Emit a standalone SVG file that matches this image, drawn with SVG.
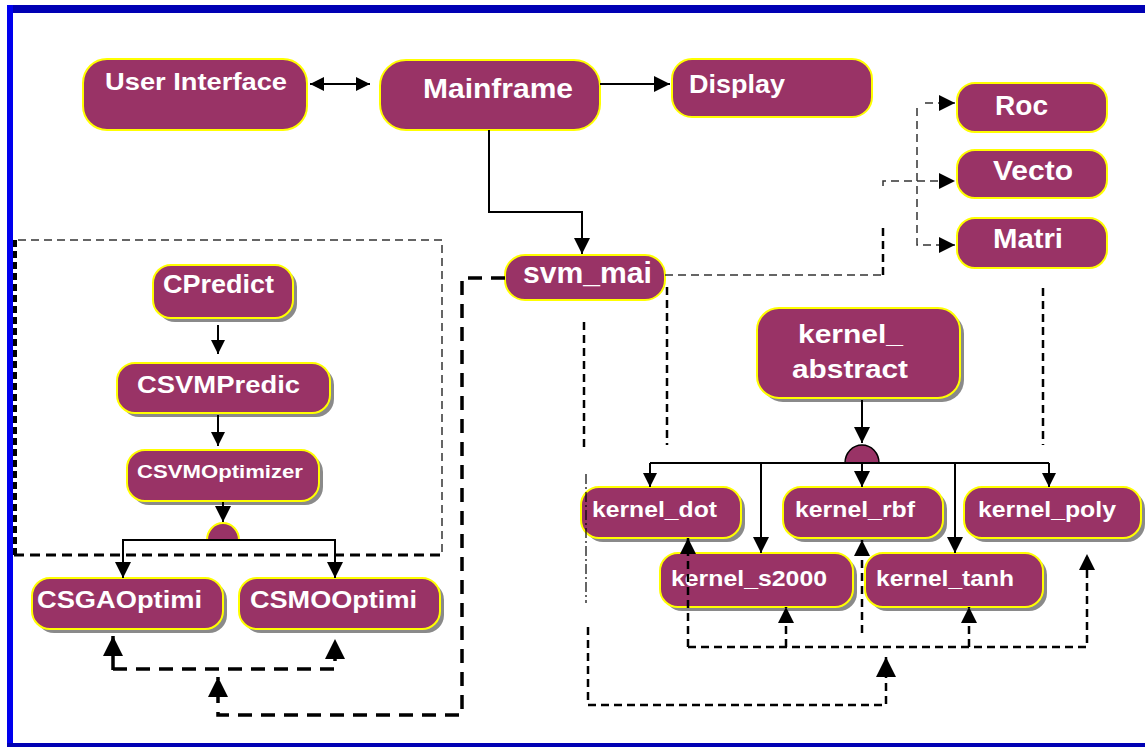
<svg xmlns="http://www.w3.org/2000/svg" width="1145" height="747" viewBox="0 0 1145 747">
<style>
.n{fill:#993366;stroke:#ffff00;stroke-width:2}
.sh{fill:#8a8a8a}
.t{font-family:"Liberation Sans",Arial,sans-serif;font-weight:bold;fill:#fff}
.s{fill:none;stroke:#000;stroke-width:2}
.d1{fill:none;stroke:#333;stroke-width:1.5;stroke-dasharray:8 5}
.d2{fill:none;stroke:#000;stroke-width:2.5;stroke-dasharray:8 5}
.d3{fill:none;stroke:#000;stroke-width:3.5;stroke-dasharray:14 9}
</style>
<defs>
<marker id="ah" viewBox="0 0 10 10" refX="10" refY="5" markerWidth="18" markerHeight="16" markerUnits="userSpaceOnUse" orient="auto-start-reverse"><path d="M0,0 L10,5 L0,10 z" fill="#000"/></marker>
<marker id="as" viewBox="0 0 10 10" refX="10" refY="5" markerWidth="16" markerHeight="14" markerUnits="userSpaceOnUse" orient="auto-start-reverse"><path d="M0,0 L10,5 L0,10 z" fill="#000"/></marker>
<marker id="al" viewBox="0 0 10 10" refX="10" refY="5" markerWidth="21" markerHeight="20" markerUnits="userSpaceOnUse" orient="auto-start-reverse"><path d="M0,0 L10,5 L0,10 z" fill="#000"/></marker>
</defs>
<rect width="1145" height="747" fill="#fff"/>
<g id="frame">
<rect x="7" y="5" width="1138" height="8" fill="#0000b4"/>
<rect x="7" y="5" width="6" height="742" fill="#0000ee"/>
<rect x="7" y="743" width="1138" height="4" fill="#0000b4"/>
</g>
<g id="group-box">
<path class="d1" d="M18,240 H442 V555"/>
<path d="M14,555 H442" fill="none" stroke="#000" stroke-width="3" stroke-dasharray="10 6"/>
<path d="M15,240 V555" fill="none" stroke="#000" stroke-width="4" stroke-dasharray="7 4"/>
</g>
<g id="user-interface"><rect class="n" x="83" y="59" width="224" height="71" rx="24"/><text class="t" x="105" y="90" font-size="24" textLength="182" lengthAdjust="spacingAndGlyphs">User Interface</text></g>
<g id="mainframe"><rect class="n" x="380" y="60" width="220" height="70" rx="26"/><text class="t" x="423" y="98" font-size="28" textLength="150" lengthAdjust="spacingAndGlyphs">Mainframe</text></g>
<g id="display"><rect class="n" x="672" y="59" width="200" height="58" rx="20"/><text class="t" x="689" y="93" font-size="26" textLength="96" lengthAdjust="spacingAndGlyphs">Display</text></g>
<g id="svm-mai"><rect class="n" x="505" y="255" width="160" height="45" rx="20"/><text class="t" x="523" y="283" font-size="30" textLength="129" lengthAdjust="spacingAndGlyphs">svm_mai</text></g>
<g id="roc"><rect class="n" x="957" y="83" width="150" height="49" rx="18"/><text class="t" x="995" y="115" font-size="27" textLength="53" lengthAdjust="spacingAndGlyphs">Roc</text></g>
<g id="vecto"><rect class="n" x="957" y="150" width="150" height="48" rx="18"/><text class="t" x="993" y="180" font-size="27" textLength="80" lengthAdjust="spacingAndGlyphs">Vecto</text></g>
<g id="matri"><rect class="n" x="957" y="218" width="150" height="50" rx="18"/><text class="t" x="993" y="248" font-size="27" textLength="70" lengthAdjust="spacingAndGlyphs">Matri</text></g>
<g id="cpredict"><rect class="sh" x="157" y="269" width="140" height="53" rx="18"/><rect class="n" x="153" y="265" width="140" height="53" rx="18"/><text class="t" x="163" y="293" font-size="25" textLength="111" lengthAdjust="spacingAndGlyphs">CPredict</text></g>
<g id="csvmpredic"><rect class="sh" x="121" y="367" width="213" height="50" rx="18"/><rect class="n" x="117" y="363" width="213" height="50" rx="18"/><text class="t" x="137" y="393" font-size="23" textLength="163" lengthAdjust="spacingAndGlyphs">CSVMPredic</text></g>
<g id="csvmoptimizer"><rect class="sh" x="131" y="454" width="192" height="51" rx="18"/><rect class="n" x="127" y="450" width="192" height="51" rx="18"/><text class="t" x="137" y="478" font-size="18" textLength="166" lengthAdjust="spacingAndGlyphs">CSVMOptimizer</text></g>
<g id="csgaoptimi"><rect class="sh" x="36" y="582" width="191" height="51" rx="18"/><rect class="n" x="32" y="578" width="191" height="51" rx="18"/><text class="t" x="37" y="608" font-size="23" textLength="165" lengthAdjust="spacingAndGlyphs">CSGAOptimi</text></g>
<g id="csmooptimi"><rect class="sh" x="243" y="582" width="201" height="51" rx="18"/><rect class="n" x="239" y="578" width="201" height="51" rx="18"/><text class="t" x="250" y="608" font-size="23" textLength="167" lengthAdjust="spacingAndGlyphs">CSMOOptimi</text></g>
<g id="kernel-abstract"><rect class="sh" x="761" y="312" width="203" height="90" rx="22"/><rect class="n" x="757" y="308" width="203" height="90" rx="22"/><text class="t" x="798" y="343" font-size="26" textLength="105" lengthAdjust="spacingAndGlyphs">kernel_</text><text class="t" x="792" y="378" font-size="26" textLength="116" lengthAdjust="spacingAndGlyphs">abstract</text></g>
<g id="kernel-dot"><rect class="sh" x="585" y="491" width="160" height="51" rx="18"/><rect class="n" x="581" y="487" width="160" height="51" rx="18"/><text class="t" x="592" y="517" font-size="22" textLength="125" lengthAdjust="spacingAndGlyphs">kernel_dot</text></g>
<g id="kernel-rbf"><rect class="sh" x="787" y="491" width="160" height="51" rx="18"/><rect class="n" x="783" y="487" width="160" height="51" rx="18"/><text class="t" x="795" y="517" font-size="22" textLength="120" lengthAdjust="spacingAndGlyphs">kernel_rbf</text></g>
<g id="kernel-poly"><rect class="sh" x="968" y="491" width="177" height="51" rx="18"/><rect class="n" x="964" y="487" width="177" height="51" rx="18"/><text class="t" x="978" y="517" font-size="22" textLength="138" lengthAdjust="spacingAndGlyphs">kernel_poly</text></g>
<g id="kernel-s2000"><rect class="sh" x="664" y="557" width="193" height="54" rx="18"/><rect class="n" x="660" y="553" width="193" height="54" rx="18"/><text class="t" x="671" y="586" font-size="22" textLength="156" lengthAdjust="spacingAndGlyphs">kernel_s2000</text></g>
<g id="kernel-tanh"><rect class="sh" x="869" y="557" width="178" height="54" rx="18"/><rect class="n" x="865" y="553" width="178" height="54" rx="18"/><text class="t" x="876" y="586" font-size="22" textLength="138" lengthAdjust="spacingAndGlyphs">kernel_tanh</text></g>
<g id="join-left"><path d="M207,540 A16,17 0 0 1 239,540 Z" fill="#993366" stroke="#ffff00" stroke-width="2"/></g>
<g id="join-right"><path d="M845,463 A17,18 0 0 1 879,463 Z" fill="#993366" stroke="#000" stroke-width="1.5"/></g>
<g id="connectors">
<path class="s" d="M310,84 H370" marker-start="url(#as)" marker-end="url(#as)"/>
<path class="s" d="M600,84 H670" marker-end="url(#ah)"/>
<path class="s" d="M489,130 V212 H582 V254" marker-end="url(#ah)"/>
<path class="s" d="M218,325 V354" marker-end="url(#as)"/>
<path class="s" d="M218,415 V446" marker-end="url(#as)"/>
<path class="s" d="M223,502 V522" marker-end="url(#ah)"/>
<path class="s" stroke-width="1.5" d="M123,578 V540 H335 V578"/>
<path class="s" d="M123,545 V578" marker-end="url(#ah)"/>
<path class="s" d="M335,545 V578" marker-end="url(#ah)"/>
<path class="d3" d="M505,278 H462 V715 H218 V677" marker-end="url(#al)"/>
<path class="d3" d="M113,670 V636" marker-end="url(#al)"/>
<path class="d3" d="M113,669 H335 V639" marker-end="url(#al)"/>
<path class="d1" d="M665,275 H883"/>
<path class="d2" d="M883,275 V227"/>
<path class="d1" d="M883,186 V181 H955" marker-end="url(#ah)"/>
<path class="d1" d="M917,108 V245 H955" marker-end="url(#ah)"/>
<path class="d1" d="M925,103 H955" marker-end="url(#ah)"/>
<path class="s" d="M862,400 V443" marker-end="url(#ah)"/>
<path class="s" stroke-width="1.5" d="M650,463 H1049"/>
<path class="s" d="M650,463 V487" marker-end="url(#as)"/>
<path class="s" d="M862,463 V487" marker-end="url(#ah)"/>
<path class="s" d="M1049,463 V487" marker-end="url(#as)"/>
<path class="s" stroke-width="2.5" d="M761,463 V553" marker-end="url(#ah)"/>
<path class="s" stroke-width="2.5" d="M955,463 V553" marker-end="url(#ah)"/>
<path class="d2" stroke-dasharray="6 4" d="M584,322 V448"/>
<path class="d2" stroke-dasharray="7 5" d="M667,287 V445"/>
<path class="d2" stroke-dasharray="7 5" d="M1043,288 V445"/>
<path fill="none" stroke="#000" stroke-width="1.2" stroke-dasharray="10 3 2 3" d="M586,474 V603"/>
<path class="d2" d="M588,627 V705 H886 V657" marker-end="url(#al)"/>
<path class="d2" d="M688,647 H1087 V554" marker-end="url(#ah)"/>
<path class="d2" d="M688,647 V538" marker-end="url(#ah)"/>
<path class="d2" d="M786,647 V607" marker-end="url(#ah)"/>
<path class="d2" d="M969,647 V607" marker-end="url(#ah)"/>
<path class="d2" d="M862,633 V540" marker-end="url(#ah)"/>
</g>
</svg>
